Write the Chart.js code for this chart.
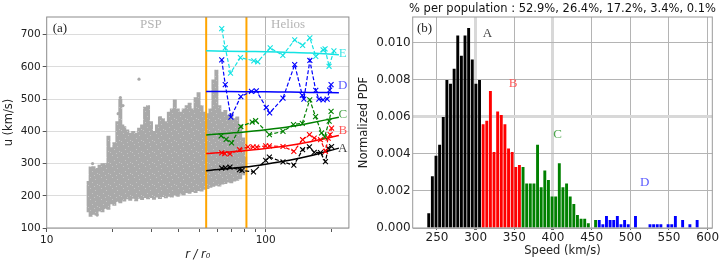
<!DOCTYPE html>
<html><head><meta charset="utf-8">
<script src="https://cdn.jsdelivr.net/npm/chart.js@4/dist/chart.umd.min.js"></script>
<style>
html,body{margin:0;padding:0;background:#fff;width:724px;height:265px;overflow:hidden}
#ca{position:absolute;left:0;top:0}
#cb{position:absolute;left:354px;top:0}
</style></head><body>
<canvas id="ca" width="354" height="265"></canvas>
<canvas id="cb" width="370" height="265"></canvas>
<script>
// ---------- Panel (a) data ----------
const rTicks = [10,20,30,40,50,60,70,80,90,100,200];
const uTicks = [100,200,300,400,500,600,700];
const boundaries = [53.5, 81.7];

const rE = [63.0,65.4,69.1,76.7,88.3,92.0,104.9,119.8,135.7,147.5,159.2,169.4,183.0,186.8,194.8,205.0];
const uE = [719,659,581,629,619,616,659,636,684,667,690,633,653,656,602,650];
const rD = [63.0,65.4,69.4,77.0,86.1,90.7,100.6,104.3,120.0,135.7,147.0,149.5,159.2,169.4,175.0,183.0,191.0,196.0,199.0];
const uD = [622,545,444,508,524,526,474,457,503,607,512,500,620,527,500,498,500,528,545];
const rC = [62.6,66.0,69.9,77.0,86.8,90.0,104.0,120.0,134.0,147.0,159.0,169.0,180.0,186.0,195.0,199.0];
const uC = [386,375,364,415,429,433,390,400,421,425,498,446,395,383,432,462];
const rB = [63.0,65.0,68.7,76.0,83.0,87.6,91.0,100.0,104.0,120.0,134.5,147.5,158.5,166.6,178.0,187.5,193.0,197.0,200.0];
const uB = [333,331,330,343,352,352,351,355,355,353,338,374,390,379,374,338,379,390,410];
const rA = [63.0,65.5,68.7,76.0,78.0,88.0,100.0,104.0,120.0,134.5,147.5,158.5,166.6,178.0,187.5,193.0,200.0];
const uA = [286,287,289,281,279,274,310,320,305,295,343,352,335,334,306,348,353];

const fitR = [53.5,80,100,130,160,216];
const fitE = [650,648,647,645,643,638];
const fitD = [524,523,523,522,521,520];
const fitC = [389,398,405,415,426,444];
const fitB = [331,340,347,357,368,387];
const fitA = [278,289,298,311,324,348];

// PSP cloud: upper / lower edge of the gray point cloud, column by column
const cloudR = [15.54,15.87,16.37,16.89,17.43,17.98,18.55,19.14,19.75,20.37,21.02,21.69,22.14,22.61,23.33,24.07,24.83,25.62,26.43,27.27,28.14,29.03,29.95,30.90,31.88,32.90,33.94,35.02,36.13,37.28,38.46,39.68,40.94,42.24,43.58,44.96,46.39,47.86,49.39,50.95,52.57,54.24,55.96,57.74,59.57,61.46,63.41,65.43,67.51,69.66,71.87,74.16,76.5,78.9,80.6];
const cloudTop = [245,290,291,285,295,300,300,385,350,365,430,500,420,415,405,395,400,395,410,420,475,480,430,400,420,446,440,430,460,470,498,470,460,470,480,488,470,505,520,480,460,455,470,560,590,480,460,465,450,455,440,445,420,380,320];
const cloudBot = [150,136,142,140,152,150,160,158,175,170,182,178,188,183,190,186,192,184,192,188,194,190,194,189,196,191,197,193,198,196,202,198,205,203,210,207,213,210,216,214,220,222,226,229,232,230,236,238,242,240,245,248,252,265,290];
const outR = [26.4,21.7,22.3,21.2,16.2,17.0];
const outU = [562,505,480,455,300,140];

// ---------- Panel (b) data ----------
const speedTicks = [250,300,350,400,450,500,550,600];
const pdfTicks = [0,0.002,0.004,0.006,0.008,0.010];
const BIN_START = 237, BIN_WIDTH = 4.69;
const pdfA = [0.0008,0.0028,0.0039,0.0045,0.0060,0.0080,0.0078,0.0086,0.0104,0.0093,0.0104,0.0108,0.0091,0.0078,0.0080];
const pdfB = [0.0056,0.0058,0.0074,0.0041,0.0063,0.0061,0.0056,0.0043,0.0041,0.0033,0.0034];
const pdfC = [0.0033,0.0024,0.0024,0.0024,0.0045,0.0022,0.0031,0.0026,0.0017,0.0017,0.0035,0.0022,0.0024,0.0017,0.0013,0.0007,0.0005,0.0005,0.00025,0,0.00043];
const pdfD = [0.00043,0.0002,0.00065,0.00043,0.00043,0.00065,0.0002,0.00043,0.0002,0,0.00065,0,0,0,0.0002,0.0002,0.0002,0.0002,0,0.0002,0.0002,0.00065,0,0.00043,0,0.0002,0,0.00043];
const firstBin = {A:0, B:15, C:26, D:47};
const percents = ['52.9%','26.4%','17.2%','3.4%','0.1%'];

// ---------- helpers ----------
const pts = (xs, ys) => xs.map((x,i)=>({x, y:ys[i]}));
const FONT = 'DejaVu Sans';

// subtle speckled gray texture imitating a dense scatter of dots
function speckle(){
  const c = document.createElement('canvas'); c.width = 11; c.height = 11;
  const g = c.getContext('2d');
  g.fillStyle = '#a9a9a9'; g.fillRect(0,0,11,11);
  g.fillStyle = 'rgba(255,255,255,0.3)';
  [[2,1],[7,3],[4,6],[9,8],[0,9],[6,10]].forEach(([x,y])=>g.fillRect(x,y,1,1));
  return g.createPattern(c,'repeat');
}

function decoPlugin(frameColor, texts, title){
  return {
    id:'deco',
    afterDatasetsDraw(chart){
      const {ctx, chartArea:a, scales} = chart;
      ctx.save();
      ctx.strokeStyle = frameColor; ctx.lineWidth = 1;
      ctx.strokeRect(a.left, a.top, a.right-a.left, a.bottom-a.top);
      ctx.textAlign='center'; ctx.textBaseline='middle';
      texts.forEach(t=>{
        ctx.font = t.font; ctx.fillStyle = t.color;
        ctx.fillText(t.text, scales.x.getPixelForValue(t.x), scales.y.getPixelForValue(t.y));
      });
      if (title){
        ctx.font = '11.5px "'+FONT+'"'; ctx.fillStyle='#111';
        ctx.fillText(title, (a.left+a.right)/2, 9.5);
      }
      ctx.restore();
    }
  };
}

// ---------- Panel (a) ----------
const pops = [
  {r:rE,u:uE,fit:fitE,color:'#14e3e3'},
  {r:rD,u:uD,fit:fitD,color:'#0000ff'},
  {r:rC,u:uC,fit:fitC,color:'#008000'},
  {r:rB,u:uB,fit:fitB,color:'#ff0000'},
  {r:rA,u:uA,fit:fitA,color:'#000000'}
];
const dsA = [];
pops.forEach(p=>dsA.push({type:'line', data:pts(p.r,p.u), borderColor:p.color, backgroundColor:p.color, borderWidth:1.2, borderDash:[4,2],
  pointStyle:'crossRot', pointRadius:3.5, pointBorderWidth:1.1, pointBorderColor:p.color, fill:false, tension:0}));
pops.forEach(p=>dsA.push({type:'line', data:pts(fitR,p.fit), borderColor:p.color, borderWidth:1.5, pointRadius:0, fill:false, tension:0.3}));
boundaries.forEach(b=>dsA.push({type:'line', data:[{x:b,y:100},{x:b,y:755}], borderColor:'#ffa500', borderWidth:2, pointRadius:0, fill:false}));
dsA.push({type:'line', data:pts(outR,outU), showLine:false, pointRadius:1.6, pointBackgroundColor:'#a9a9a9', pointBorderWidth:0});
dsA.push({type:'bar', data:cloudR.map((r,i)=>({x:r, y:[cloudBot[i], cloudTop[i]]})), backgroundColor:speckle(), borderWidth:0,
  barThickness:3.3, grouped:false});

const serif = '13px "Liberation Serif"';
const textsA = [
  {text:'(a)', x:11.5, y:718, color:'#222', font:serif},
  {text:'PSP', x:29.9, y:731, color:'#b4b4b4', font:serif},
  {text:'Helios', x:126.6, y:731, color:'#b4b4b4', font:serif},
  {text:'E', x:225, y:643, color:'#40e6e6', font:serif},
  {text:'D', x:225, y:542, color:'#5a5aff', font:serif},
  {text:'C', x:225, y:452, color:'#4da64d', font:serif},
  {text:'B', x:225, y:401, color:'#ff5a5a', font:serif},
  {text:'A', x:225, y:345, color:'#444', font:serif}
];

new Chart(document.getElementById('ca'), {
  type:'line',
  data:{datasets:dsA},
  options:{
    responsive:false, animation:false, events:[],
    layout:{padding:{left:0,right:2.3,top:17,bottom:0}},
    plugins:{legend:{display:false}, tooltip:{enabled:false}},
    scales:{
      x:{type:'logarithmic', min:10, max:240, offset:false,
        afterBuildTicks:s=>{s.ticks = rTicks.map(v=>({value:v}));},
        afterFit:s=>{s.height=37;},
        ticks:{autoSkip:false, maxRotation:0, padding:2, color:'#222', font:{family:FONT,size:10.5},
          callback:(v)=> (v===10||v===100)? String(v) : ''},
        grid:{offset:false, color:c=> (c.tick && c.tick.value===100)?'#b4b4b4':'rgba(0,0,0,0)', tickColor:'#555', tickLength:4},
        border:{display:false},
        title:{display:true, text:'r / r₀', color:'#222', font:{family:FONT,size:11.5,style:'italic'}, padding:{top:0,bottom:3}}
      },
      y:{type:'linear', min:100, max:755,
        afterBuildTicks:s=>{s.ticks = uTicks.map(v=>({value:v}));},
        afterFit:s=>{s.width=46.7;},
        ticks:{padding:2, color:'#222', font:{family:FONT,size:10.5}},
        grid:{color:'#dcdcdc', tickColor:'#555', tickLength:4},
        border:{display:false},
        title:{display:true, text:'u (km/s)', color:'#222', font:{family:FONT,size:11.5}, padding:{top:2.1,bottom:0}}
      }
    }
  },
  plugins:[decoPlugin('#8c8c8c', textsA)]
});

// ---------- Panel (b) ----------
function bars(arr, start){ return arr.map((h,i)=>({x: BIN_START + BIN_WIDTH*(start+i+0.5), y:h})); }
const popB = [
  {d:pdfA, s:firstBin.A, c:'#000000'},
  {d:pdfB, s:firstBin.B, c:'#ff0000'},
  {d:pdfC, s:firstBin.C, c:'#008000'},
  {d:pdfD, s:firstBin.D, c:'#0000ff'}
];
const dsB = popB.map(p=>({data:bars(p.d,p.s), backgroundColor:p.c, borderWidth:0, grouped:false, barPercentage:0.8, categoryPercentage:1}));
const textsB = [
  {text:'(b)', x:233.8, y:0.0108, color:'#222', font:serif},
  {text:'A', x:315.3, y:0.01052, color:'#444', font:serif},
  {text:'B', x:348.3, y:0.0078, color:'#ff5a5a', font:serif},
  {text:'C', x:405.8, y:0.00507, color:'#4da64d', font:serif},
  {text:'D', x:518.6, y:0.00243, color:'#5a5aff', font:serif}
];
const thick = v => v===300 || v===400;

new Chart(document.getElementById('cb'), {
  type:'bar',
  data:{datasets:dsB},
  options:{
    responsive:false, animation:false, events:[],
    layout:{padding:{left:0,right:11.7,top:17,bottom:0}},
    plugins:{legend:{display:false}, tooltip:{enabled:false}},
    scales:{
      x:{type:'linear', min:218.6, max:606, offset:false,
        afterBuildTicks:s=>{s.ticks = speedTicks.map(v=>({value:v}));},
        afterFit:s=>{s.height=37;},
        ticks:{autoSkip:false, maxRotation:0, padding:1, color:'#222', font:{family:FONT,size:12}, callback:v=>String(v)},
        grid:{offset:false, color:c=> (c.tick && thick(c.tick.value))?'#d8d8d8':'#b4b4b4', lineWidth:c=> (c.tick && thick(c.tick.value))?3:1, tickColor:'#666', tickLength:2},
        border:{display:false},
        title:{display:true, text:'Speed (km/s)', color:'#222', font:{family:FONT,size:11.5}, padding:{top:0,bottom:7}}
      },
      y:{type:'linear', min:0, max:0.0114,
        afterBuildTicks:s=>{s.ticks = pdfTicks.map(v=>({value:v}));},
        afterFit:s=>{s.width=58.7;},
        ticks:{padding:2, color:'#222', font:{family:FONT,size:12}, callback:v=>v.toFixed(3)},
        grid:{color:c=> (c.tick && Math.abs(c.tick.value-0.006)<1e-9)?'#d8d8d8':'#b4b4b4', lineWidth:c=> (c.tick && Math.abs(c.tick.value-0.006)<1e-9)?3:1, drawTicks:false},
        border:{display:false},
        title:{display:true, text:'Normalized PDF', color:'#222', font:{family:FONT,size:11.5}, padding:{top:3.1,bottom:0}}
      }
    }
  },
  plugins:[decoPlugin('#999', textsB, '% per population : ' + percents.join(', '))]
});
</script>
</body></html>
